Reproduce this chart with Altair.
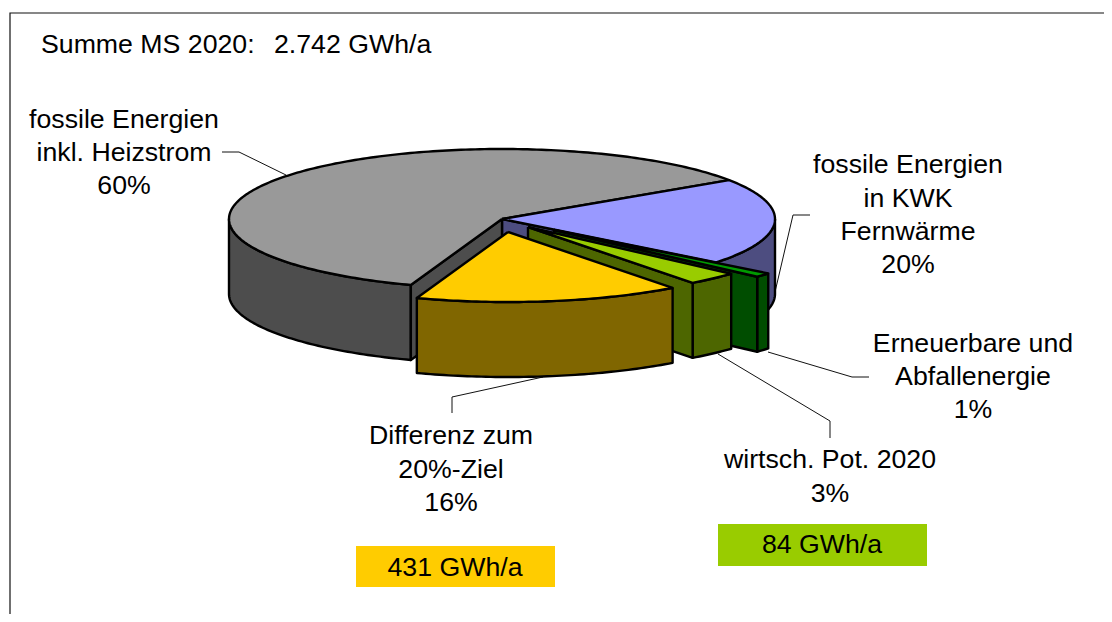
import math
import altair as alt
import pandas as pd

# --- chart values ---
slices = ["fossile Energien in KWK", "Erneuerbare und Abfallenergie", "wirtsch. Pot. 2020", "Differenz zum 20%-Ziel", "fossile Energien inkl. Heizstrom"]
shares = [20, 1, 3.06, 15.72, 60.22]
top_colors = ["#9999ff", "#009900", "#99cc00", "#ffcc00", "#999999"]
wall_colors = ["#4d4d80", "#004d00", "#4d6600", "#806600", "#4d4d4d"]

label_text = ["fossile Energien", "inkl. Heizstrom", "60%",
              "fossile Energien", "in KWK", "Fernwärme", "20%",
              "Erneuerbare und", "Abfallenergie", "1%",
              "wirtsch. Pot. 2020", "3%",
              "Differenz zum", "20%-Ziel", "16%",
              "431 GWh/a", "84 GWh/a"]
label_x = [124, 124, 124, 908, 908, 908, 908, 973, 973, 973, 830, 830, 451, 451, 451, 455, 822]
label_y = [120, 153, 186, 165, 199, 232, 265, 344, 377, 410, 460, 494, 436, 470, 503, 568, 545]

title_text = ["Summe MS 2020:", "2.742 GWh/a"]
title_x = [41, 274]
title_y = [45, 45]

# --- pie geometry (pixel space of the page) ---
CX, CY, RX, RY, DEPTH = 502, 219, 273, 70, 75
START = 56.3
OFFSET = [(0, 0), (52, 11), (26, 8), (6, 13), (0, 0)]

edges = [START]
for s in shares:
    edges.append(edges[-1] + s * 3.6)


def pt(a, k, drop=0.0):
    r = math.radians(a)
    ox, oy = OFFSET[k]
    return (CX + ox + RX * math.sin(r), CY + oy - RY * math.cos(r) + drop)


def arc(a0, a1, k, drop=0.0):
    n = max(2, int(abs(a1 - a0)) + 2)
    return [pt(a0 + (a1 - a0) * i / (n - 1), k, drop) for i in range(n)]


def apex(k, drop=0.0):
    ox, oy = OFFSET[k]
    return (CX + ox, CY + oy + drop)


def top(k):
    return [apex(k)] + arc(edges[k], edges[k + 1], k)


def outer(a0, a1, k):
    return arc(a0, a1, k) + arc(a1, a0, k, DEPTH)


def radial(a, k):
    return [apex(k), pt(a, k), pt(a, k, DEPTH), apex(k, DEPTH)]


polys = [
    (outer(90, edges[1], 0), wall_colors[0]),
    (radial(edges[1], 0), wall_colors[0]),
    (outer(edges[4], 270, 4), wall_colors[4]),
    (radial(edges[4], 4), wall_colors[4]),
    (top(4), top_colors[4]),
    (top(0), top_colors[0]),
    (outer(edges[1], edges[2], 1), wall_colors[1]),
    (radial(edges[2], 1), wall_colors[1]),
    (top(1), top_colors[1]),
    (outer(edges[2], edges[3], 2), wall_colors[2]),
    (radial(edges[3], 2), wall_colors[2]),
    (top(2), top_colors[2]),
    (outer(edges[3], edges[4], 3), wall_colors[3]),
    (top(3), top_colors[3]),
]

rows = []
for p, (verts, col) in enumerate(polys):
    for i, (x, y) in enumerate(verts + [verts[0]]):
        rows.append({"poly": p, "i": i, "x": x, "y": y, "col": col})
poly_df = pd.DataFrame(rows)

# --- annotation furniture ---
leader_paths = [
    [(222, 152), (239, 152), (286, 175)],
    [(810, 215), (793, 215), (775, 292)],
    [(768, 352), (852, 377), (869, 377)],
    [(718, 354), (830, 421), (830, 438)],
    [(543, 377), (452, 397), (452, 413)],
]
leader_df = pd.DataFrame([
    {"path": p, "i": i, "x": x, "y": y}
    for p, pts in enumerate(leader_paths) for i, (x, y) in enumerate(pts)
])

box_df = pd.DataFrame({
    "x": [356, 718], "x2": [555, 927], "y": [546, 524], "y2": [587, 566],
    "col": [top_colors[3], top_colors[2]],
})
frame_df = pd.DataFrame({"x": [1104, 10, 10], "y": [13, 13, 614], "i": [0, 1, 2]})

xs = alt.Scale(domain=[8, 1104], range=[0, 1096])
ys = alt.Scale(domain=[8, 614], range=[0, 606])
X = alt.X("x:Q", scale=xs, axis=None)
Y = alt.Y("y:Q", scale=ys, axis=None)

frame = alt.Chart(frame_df).mark_line(color="#111111", strokeWidth=1.2).encode(X, Y, order="i:Q")
pie = alt.Chart(poly_df).mark_line(filled=True, stroke="#000000", strokeWidth=2.4, strokeJoin="round").encode(
    X, Y, detail="poly:N", order="i:Q", fill=alt.Fill("col:N", scale=None)
)
leaders = alt.Chart(leader_df).mark_line(color="#111111", strokeWidth=1).encode(X, Y, detail="path:N", order="i:Q")
boxes = alt.Chart(box_df).mark_rect().encode(X, alt.X2("x2:Q"), Y, alt.Y2("y2:Q"), fill=alt.Fill("col:N", scale=None))

FONT = "Liberation Sans"
FS = 26.7
labels = alt.Chart(pd.DataFrame({"t": label_text, "x": label_x, "y": label_y})).mark_text(
    font=FONT, fontSize=FS, color="#000000", align="center", baseline="middle"
).encode(X, Y, text="t:N")
titles = alt.Chart(pd.DataFrame({"t": title_text, "x": title_x, "y": title_y})).mark_text(
    font=FONT, fontSize=FS, color="#000000", align="left", baseline="middle"
).encode(X, Y, text="t:N")

chart = alt.layer(frame, boxes, leaders, pie, labels, titles).properties(
    width=1096, height=606, padding=0, autosize=alt.AutoSizeParams(type="none"), background="white"
).configure_view(stroke=None)

chart.save("out.html", embed_options={"renderer": "svg", "actions": False})
